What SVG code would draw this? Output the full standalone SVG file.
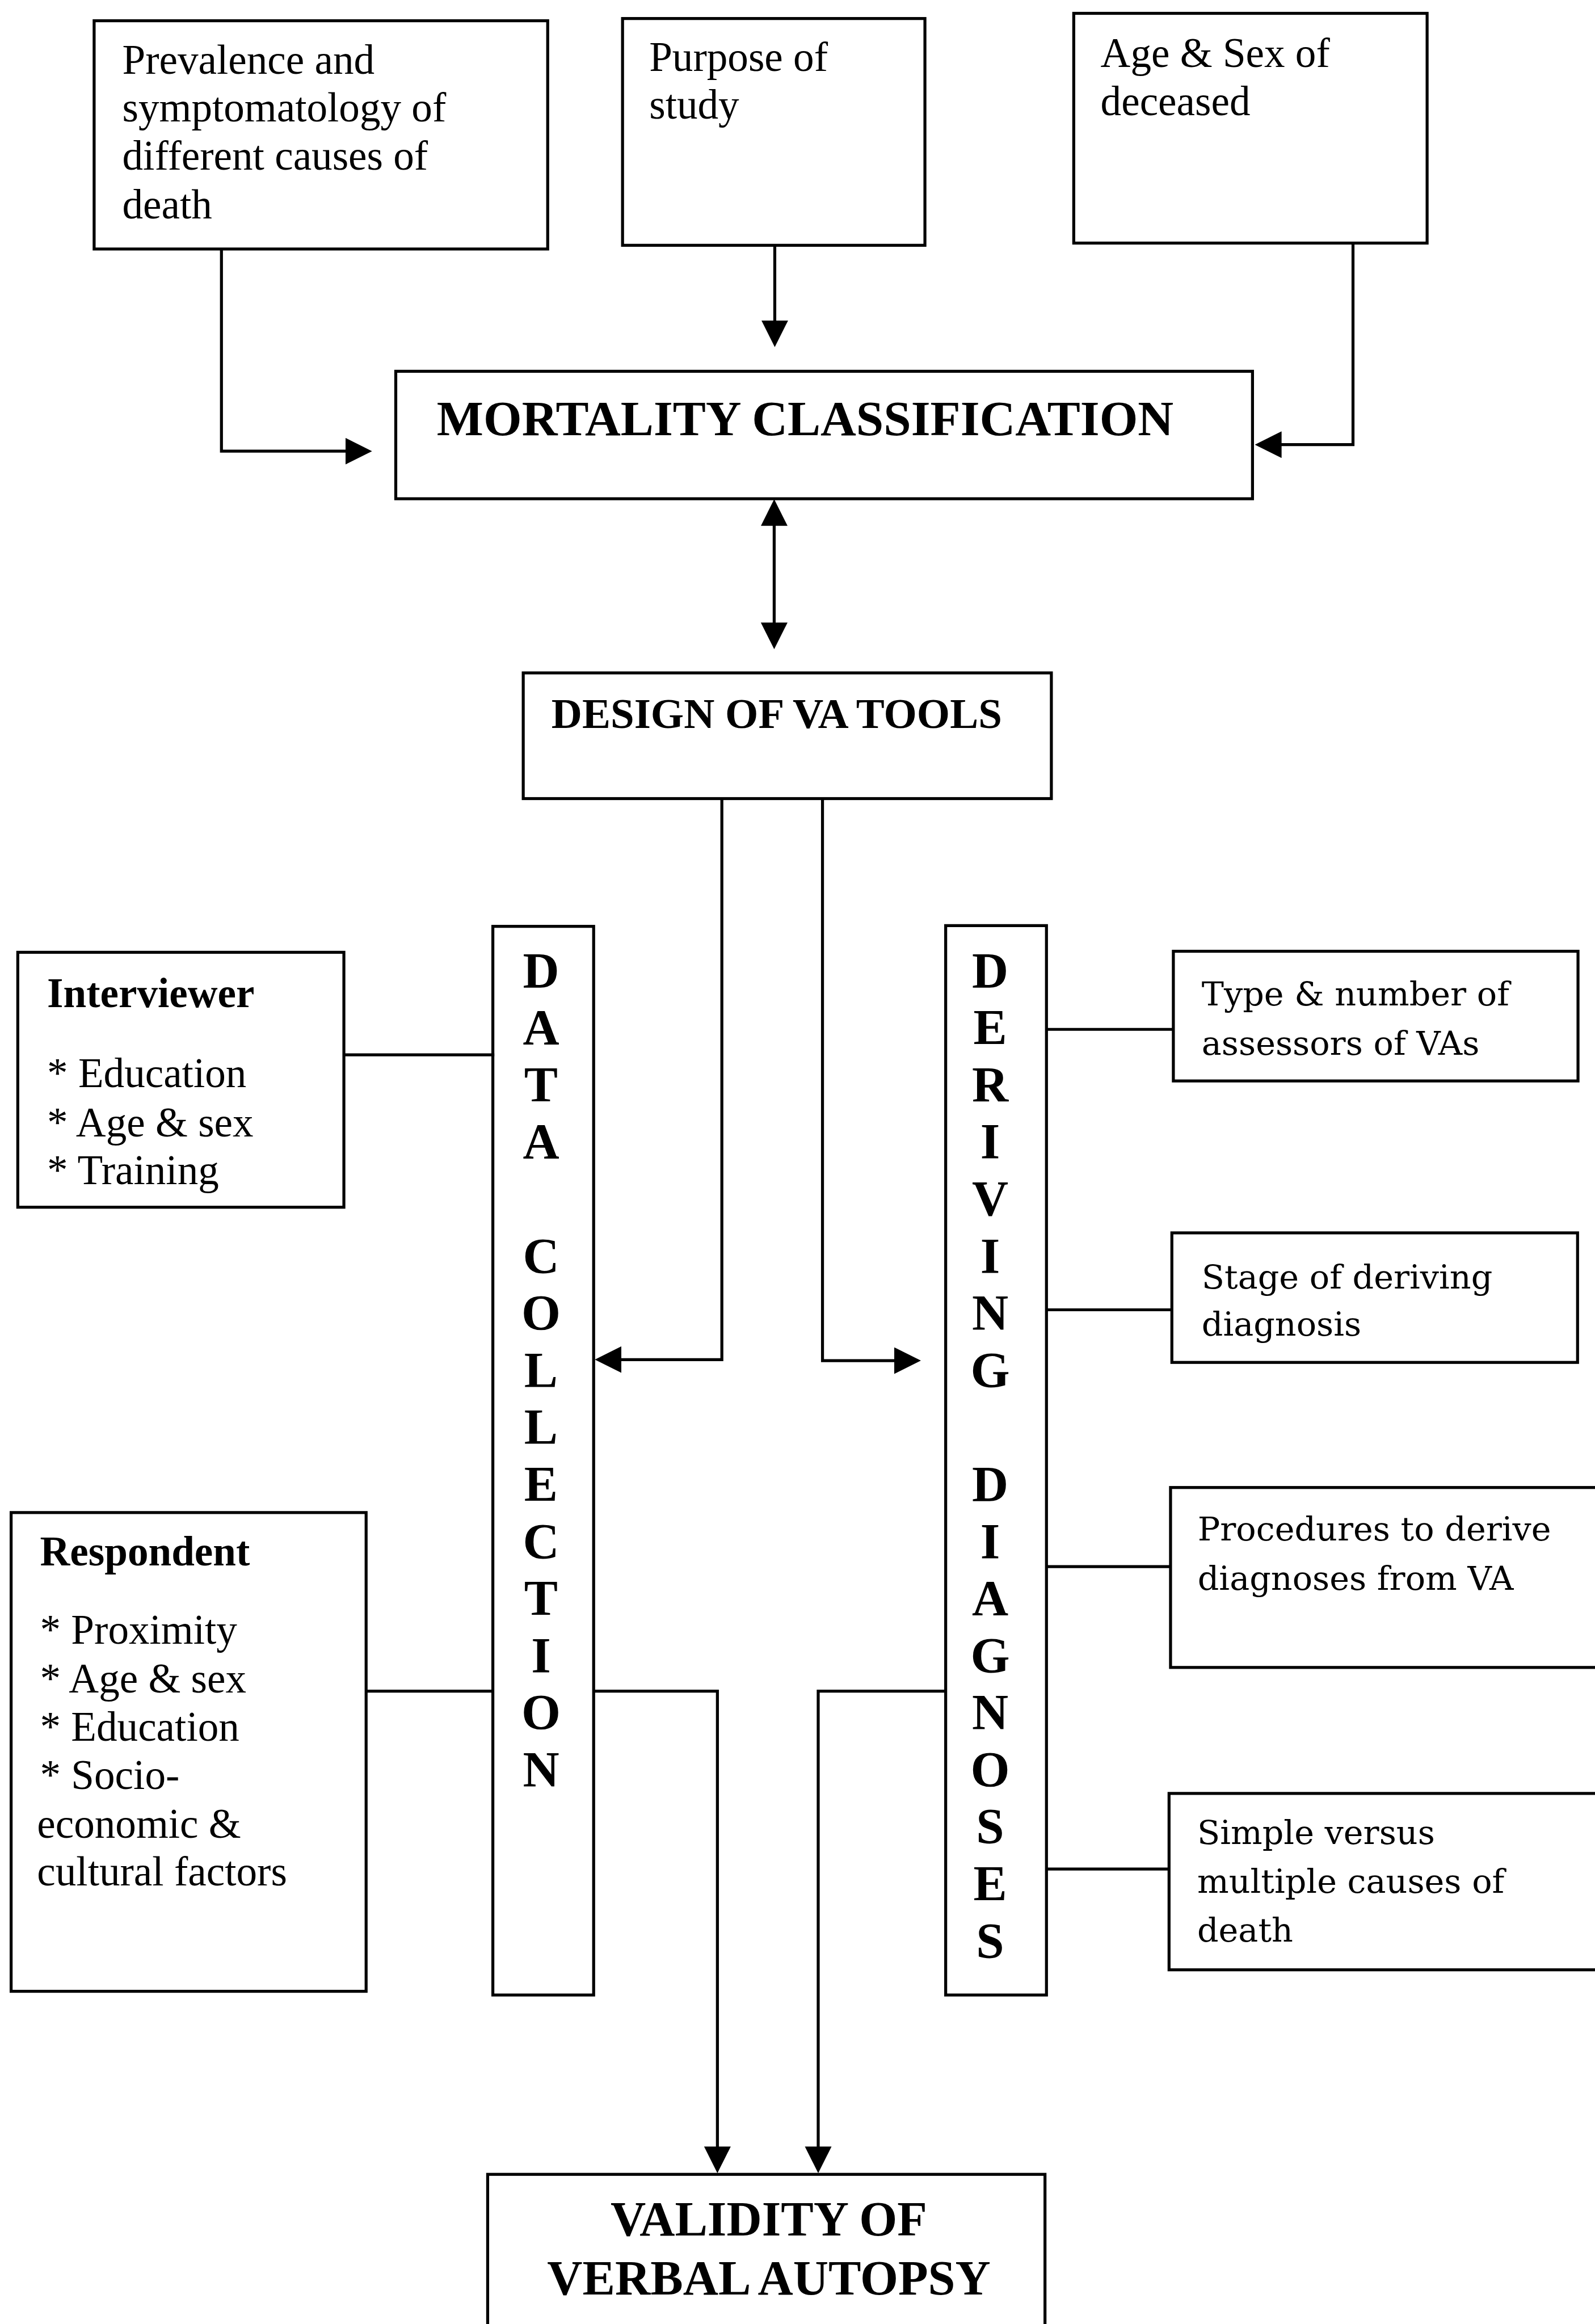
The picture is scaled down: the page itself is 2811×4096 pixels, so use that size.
<svg xmlns="http://www.w3.org/2000/svg" width="2811" height="4096" viewBox="0 0 2811 4096">
<style>
.box{fill:none;stroke:#000;stroke-width:2}
.conn{fill:none;stroke:#000;stroke-width:2}
.t{font-family:"Liberation Serif","Times New Roman",serif;font-size:28px;fill:#000}
.tb{font-family:"Liberation Serif","Times New Roman",serif;font-size:28px;font-weight:bold;fill:#000}
.big{font-family:"Liberation Serif","Times New Roman",serif;font-size:33px;font-weight:bold;fill:#000}
.vt{font-family:"Liberation Serif","Times New Roman",serif;font-size:34px;font-weight:bold;fill:#000;text-anchor:middle}
.c{font-family:"DejaVu Serif","Liberation Serif",serif;font-size:22.5px;fill:#000}
</style>
<defs>
<marker id="ah" viewBox="0 0 18 18" refX="15" refY="9" markerWidth="18" markerHeight="18" markerUnits="userSpaceOnUse" orient="auto-start-reverse">
<path d="M0,0 L18,9 L0,18 z" fill="#000"/>
</marker>
</defs>
<rect width="2811" height="4096" fill="#fff"/>
<g transform="scale(2.6123)">
<g id="connectors">
<path class="conn" d="M149.4,168 V304.4 H248" marker-end="url(#ah)"/>
<path class="conn" d="M522.7,165.5 V231.2" marker-end="url(#ah)"/>
<path class="conn" d="M912.8,164 V300 H849.6" marker-end="url(#ah)"/>
<path class="conn" d="M522.3,339.8 V435" marker-start="url(#ah)" marker-end="url(#ah)"/>
<path class="conn" d="M487,538.8 V917.3 H404.3" marker-end="url(#ah)"/>
<path class="conn" d="M554.9,538.8 V918 H618.3" marker-end="url(#ah)"/>
<path class="conn" d="M232,711.7 H333.5"/>
<path class="conn" d="M247,1141 H332.5"/>
<path class="conn" d="M400.5,1141 H484 V1463.2" marker-end="url(#ah)"/>
<path class="conn" d="M638,1141 H552 V1463.2" marker-end="url(#ah)"/>
<path class="conn" d="M706,694.5 H791.6"/>
<path class="conn" d="M706,883.7 H790.6"/>
<path class="conn" d="M706,1057 H789.7"/>
<path class="conn" d="M706,1261 H788.7"/>
</g>
<g id="prevalence">
<rect class="box" x="63.5" y="14" width="306" height="154"/>
<text class="t" x="82.5" y="49.7">Prevalence and</text>
<text class="t" x="82.5" y="82">symptomatology of</text>
<text class="t" x="82.5" y="114.5">different causes of</text>
<text class="t" x="82.5" y="147.5">death</text>
</g>
<g id="purpose">
<rect class="box" x="420" y="12.5" width="204" height="153"/>
<text class="t" x="438" y="48">Purpose of</text>
<text class="t" x="438" y="80">study</text>
</g>
<g id="agesex">
<rect class="box" x="724.4" y="9" width="238.4" height="155"/>
<text class="t" x="742.5" y="45.3">Age &amp; Sex of</text>
<text class="t" x="742.5" y="77.7">deceased</text>
</g>
<g id="mortality">
<rect class="box" x="267" y="250.5" width="578" height="86"/>
<text class="big" x="294.7" y="293.6" textLength="497" lengthAdjust="spacingAndGlyphs">MORTALITY CLASSIFICATION</text>
</g>
<g id="design">
<rect class="box" x="353" y="454" width="356.3" height="84.8"/>
<text class="tb" x="372" y="491.3" textLength="304" lengthAdjust="spacingAndGlyphs">DESIGN OF VA TOOLS</text>
</g>
<g id="interviewer">
<rect class="box" x="12" y="642.5" width="220" height="172"/>
<text class="tb" x="31.8" y="679.6">Interviewer</text>
<text class="t" x="31.8" y="733.6">* Education</text>
<text class="t" x="31.8" y="766.6">* Age &amp; sex</text>
<text class="t" x="31.8" y="799">* Training</text>
</g>
<g id="respondent">
<rect class="box" x="7.5" y="1020.5" width="239.5" height="323"/>
<text class="tb" x="27" y="1056">Respondent</text>
<text class="t" x="27" y="1109">* Proximity</text>
<text class="t" x="27" y="1142">* Age &amp; sex</text>
<text class="t" x="27" y="1174.5">* Education</text>
<text class="t" x="27" y="1207">* Socio-</text>
<text class="t" x="25" y="1240">economic &amp;</text>
<text class="t" x="25" y="1272">cultural factors</text>
</g>
<g id="datacollection">
<rect class="box" x="332.5" y="625" width="68" height="721"/>
<text class="vt" x="365" y="666">D</text>
<text class="vt" x="365" y="704.5">A</text>
<text class="vt" x="365" y="743">T</text>
<text class="vt" x="365" y="781.5">A</text>
<text class="vt" x="365" y="858.5">C</text>
<text class="vt" x="365" y="897">O</text>
<text class="vt" x="365" y="935.5">L</text>
<text class="vt" x="365" y="974">L</text>
<text class="vt" x="365" y="1012.5">E</text>
<text class="vt" x="365" y="1051">C</text>
<text class="vt" x="365" y="1089.5">T</text>
<text class="vt" x="365" y="1128">I</text>
<text class="vt" x="365" y="1166.5">O</text>
<text class="vt" x="365" y="1205">N</text>
</g>
<g id="derivingdiagnoses">
<rect class="box" x="638" y="624.5" width="68" height="721.5"/>
<text class="vt" x="668" y="666">D</text>
<text class="vt" x="668" y="704.5">E</text>
<text class="vt" x="668" y="743">R</text>
<text class="vt" x="668" y="781.5">I</text>
<text class="vt" x="668" y="820">V</text>
<text class="vt" x="668" y="858.5">I</text>
<text class="vt" x="668" y="897">N</text>
<text class="vt" x="668" y="935.5">G</text>
<text class="vt" x="668" y="1012.5">D</text>
<text class="vt" x="668" y="1051">I</text>
<text class="vt" x="668" y="1089.5">A</text>
<text class="vt" x="668" y="1128">G</text>
<text class="vt" x="668" y="1166.5">N</text>
<text class="vt" x="668" y="1205">O</text>
<text class="vt" x="668" y="1243.5">S</text>
<text class="vt" x="668" y="1282">E</text>
<text class="vt" x="668" y="1320.5">S</text>
</g>
<g id="typenumber">
<rect class="box" x="791.6" y="641.8" width="273" height="87.5"/>
<text class="c" x="810.7" y="678.3">Type &amp; number of</text>
<text class="c" x="810.7" y="711.7">assessors of VAs</text>
</g>
<g id="stage">
<rect class="box" x="790.6" y="831.8" width="273.7" height="87.4"/>
<text class="c" x="810.7" y="869.5">Stage of deriving</text>
<text class="c" x="810.7" y="901">diagnosis</text>
</g>
<g id="procedures">
<rect class="box" x="789.7" y="1003.6" width="300" height="121.4"/>
<text class="c" x="808" y="1039.2">Procedures to derive</text>
<text class="c" x="808" y="1072.8">diagnoses from VA</text>
</g>
<g id="simple">
<rect class="box" x="788.7" y="1210" width="300" height="119"/>
<text class="c" x="807.7" y="1244">Simple versus</text>
<text class="c" x="807.7" y="1277">multiple causes of</text>
<text class="c" x="807.7" y="1310">death</text>
</g>
<g id="validity">
<rect class="box" x="329" y="1467" width="376" height="130"/>
<text class="big" x="518.7" y="1508.2" text-anchor="middle">VALIDITY OF</text>
<text class="big" x="518.7" y="1548" text-anchor="middle">VERBAL AUTOPSY</text>
</g>
</g>
</svg>
